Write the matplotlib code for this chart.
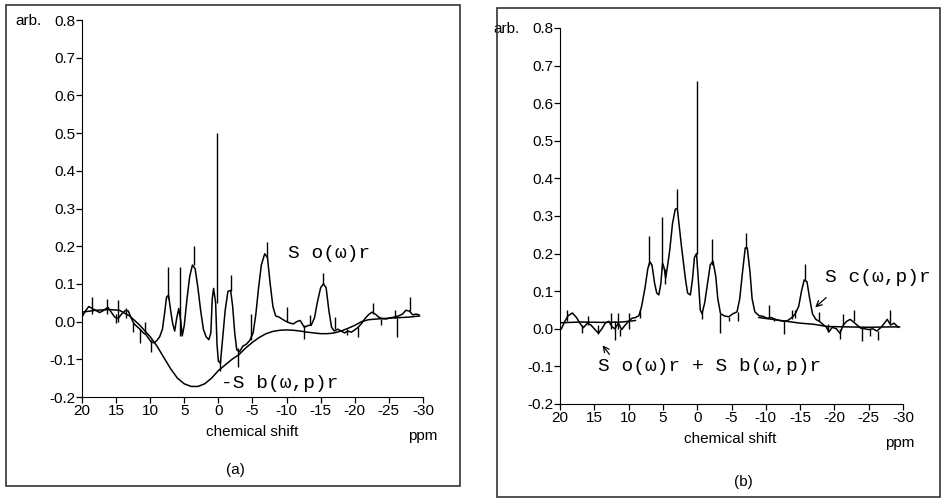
import matplotlib
matplotlib.use("Agg")
import matplotlib.pyplot as plt
from matplotlib.patches import Rectangle
import numpy as np

plt.rcParams['font.family'] = ['Liberation Sans', 'DejaVu Sans']
plt.rcParams['axes.unicode_minus'] = False

# Panel (a): measured spectrum So(w)r  (ppm, arb.)
a_ppm = [20, 19.5, 19.0, 18.5, 18.0, 17.4, 16.8, 16.2, 15.7, 15.2, 14.7, 14.2, 13.6, 13.2,
         12.8, 12.4, 12.0, 11.5, 11.0, 10.6, 10.2, 9.8, 9.4, 9.0, 8.6, 8.2, 7.9, 7.6, 7.3,
         7.0, 6.7, 6.4, 6.1, 5.8, 5.5, 5.3, 5.0, 4.6, 4.2, 3.8, 3.4, 3.0, 2.6, 2.2, 1.8,
         1.4, 1.1, 0.9, 0.7, 0.4, 0.2, 0.0, -0.3, -0.6, -1.0, -1.4, -1.8, -2.1, -2.4,
         -2.7, -3.1, -3.6, -4.1, -4.6, -5.1, -5.5, -5.9, -6.3, -6.8, -7.2, -7.6, -8.0,
         -8.4, -8.9, -9.5, -10.0, -10.5, -11.0, -11.5, -12.0, -12.6, -13.2, -13.6, -14.1,
         -14.5, -15.0, -15.4, -15.8, -16.2, -16.6, -17.0, -17.5, -18.0, -18.5, -19.0,
         -19.5, -20.0, -20.5, -21.0, -21.5, -22.0, -22.5, -23.0, -23.5, -24.0, -24.6,
         -25.2, -25.8, -26.4, -27.0, -27.5, -28.0, -28.5, -29.0, -29.4]
a_val = [0.012, 0.028, 0.04, 0.035, 0.03, 0.024, 0.03, 0.038, 0.025, 0.012, 0.008, 0.02,
         0.03, 0.028, 0.01, -0.005, -0.012, -0.02, -0.03, -0.035, -0.045, -0.055, -0.056,
         -0.05, -0.04, -0.02, 0.02, 0.065, 0.07, 0.03, -0.005, -0.025, 0.01, 0.035, 0.0,
         -0.038, -0.01, 0.06, 0.12, 0.15, 0.14, 0.09, 0.03, -0.02, -0.04, -0.048, -0.03,
         0.06, 0.088, 0.05, -0.06, -0.105, -0.11, -0.05, 0.03, 0.08, 0.083, 0.04, -0.03,
         -0.075, -0.08, -0.065, -0.06, -0.05, -0.03, 0.02, 0.09, 0.15, 0.18, 0.17, 0.1,
         0.04, 0.015, 0.012, 0.005, 0.0, -0.004, -0.006, 0.0, 0.003, -0.015, -0.01, -0.01,
         0.01, 0.05, 0.09, 0.1, 0.09, 0.03, -0.015, -0.025, -0.02, -0.025, -0.03, -0.025,
         -0.028, -0.022, -0.015, -0.005, 0.008, 0.018, 0.025, 0.02, 0.012, 0.008, 0.007,
         0.01, 0.012, 0.015, 0.02, 0.03, 0.028, 0.018, 0.02, 0.018]

# Panel (a): background -Sb(w,p)r
a_bg_ppm = [20, 18, 16, 14.5, 13, 11.5, 10, 9, 8, 7, 6, 5, 4, 3, 2, 1, 0, -1, -2, -3, -4,
            -5, -6, -7, -8, -9, -10, -11, -12, -13, -14, -15, -16, -17, -18, -19, -20,
            -21, -22, -24, -26, -28, -29.5]
a_bg_val = [0.025, 0.03, 0.032, 0.03, 0.015, -0.01, -0.04, -0.065, -0.095, -0.125, -0.15,
            -0.165, -0.172, -0.172, -0.165, -0.15, -0.13, -0.115, -0.1, -0.088, -0.07,
            -0.055, -0.042, -0.032, -0.026, -0.023, -0.022, -0.023, -0.025, -0.028, -0.03,
            -0.032, -0.032, -0.03, -0.025, -0.018, -0.01, 0.0, 0.005, 0.008, 0.01, 0.012,
            0.015]

# Panel (a): noise spikes (ppm, low, high)
a_sp_ppm = [18.6, 16.4, 15.0, 14.7, 13.5, 12.5, 11.5, 10.8, 9.9, 7.35, 5.6, 3.6, 0.2, -0.2,
            -1.8, -2.9, -4.8, -7.1, -10.0, -12.5, -13.4, -15.4, -17.1, -18.8, -20.5,
            -22.7, -23.9, -25.9, -26.2, -28.1]
a_sp_lo = [0.02, 0.02, -0.005, 0.0, 0.01, -0.027, -0.058, -0.03, -0.08, 0.06, -0.038, 0.15,
           0.05, -0.13, 0.08, -0.12, -0.05, 0.17, 0.0, -0.045, -0.01, 0.1, -0.02, -0.035,
           -0.04, 0.02, -0.01, 0.01, -0.04, 0.028]
a_sp_hi = [0.065, 0.06, 0.02, 0.057, 0.035, 0.0, -0.02, 0.0, -0.05, 0.144, 0.144, 0.2, 0.5,
           -0.1, 0.124, -0.07, 0.021, 0.21, 0.04, -0.01, 0.018, 0.13, 0.013, -0.02, -0.015,
           0.05, 0.008, 0.03, 0.01, 0.065]

# Panel (b): corrected spectrum Sc(w,p)r
b_ppm = [19.8, 19.3, 18.8, 18.2, 17.6, 17.0, 16.6, 16.0, 15.5, 15.0, 14.4, 13.9, 13.4, 12.9,
         12.4, 12.0, 11.5, 11.0, 10.5, 10.0, 9.5, 9.0, 8.5, 8.1, 7.6, 7.2, 6.9, 6.6, 6.2,
         5.9, 5.6, 5.3, 5.05, 4.8, 4.6, 4.3, 4.0, 3.6, 3.2, 2.9, 2.6, 2.3, 2.0, 1.7, 1.4,
         1.0, 0.7, 0.4, 0.1, -0.2, -0.45, -0.7, -1.1, -1.5, -1.9, -2.3, -2.7, -3.0, -3.4,
         -4.0, -4.6, -5.2, -5.8, -6.2, -6.6, -7.0, -7.3, -7.7, -8.0, -8.4, -9.0, -9.6,
         -10.2, -10.8, -11.4, -12.0, -12.6, -13.2, -13.8, -14.3, -14.8, -15.2, -15.6,
         -16.0, -16.4, -16.8, -17.3, -17.8, -18.3, -18.8, -19.2, -19.7, -20.3, -20.8,
         -21.3, -21.8, -22.3, -22.8, -23.3, -23.8, -24.4, -25.0, -25.6, -26.2, -26.8,
         -27.3, -27.7, -28.2, -28.7, -29.3]
b_val = [0.0, 0.02, 0.035, 0.042, 0.03, 0.012, 0.003, 0.015, 0.01, 0.0, -0.012, 0.0, 0.015,
         0.02, 0.005, 0.0, 0.015, -0.002, 0.01, 0.02, 0.028, 0.03, 0.035, 0.06, 0.11, 0.16,
         0.178, 0.17, 0.12, 0.095, 0.09, 0.12, 0.175, 0.16, 0.135, 0.17, 0.21, 0.28, 0.318,
         0.32, 0.27, 0.22, 0.175, 0.13, 0.095, 0.09, 0.13, 0.19, 0.2, 0.12, 0.05, 0.04,
         0.07, 0.12, 0.17, 0.18, 0.14, 0.08, 0.04, 0.034, 0.032, 0.04, 0.045, 0.08, 0.15,
         0.215, 0.215, 0.15, 0.08, 0.045, 0.035, 0.033, 0.028, 0.03, 0.025, 0.022, 0.02,
         0.022, 0.03, 0.04, 0.06, 0.1, 0.13, 0.125, 0.08, 0.04, 0.025, 0.02, 0.012, 0.005,
         -0.008, 0.004, 0.0, -0.012, 0.01, 0.02, 0.025, 0.018, 0.01, 0.002, 0.0, -0.002,
         0.0, -0.006, 0.004, 0.015, 0.025, 0.01, 0.015, 0.004]

# Panel (b): So(w)r + Sb(w,p)r baseline (gap under the peaks)
b_bg_ppm = [20, 17, 14, 11, 9, 8.5, -8.5, -9, -11, -13, -15, -17, -19, -22, -25, -28, -29.5]
b_bg_val = [0.016, 0.018, 0.017, 0.018, 0.022, np.nan, np.nan, 0.03, 0.025, 0.02, 0.015,
            0.012, 0.006, 0.005, 0.004, 0.005, 0.005]

b_sp_ppm = [19.0, 16.8, 15.9, 14.4, 12.5, 12.0, 11.5, 11.25, 10.0, 8.3, 7.0, 5.1, 4.7, 3.0,
            0.05, -0.65, -2.2, -3.3, -4.7, -5.9, -7.07, -10.5, -11.2, -12.7, -13.8, -14.3,
            -15.7, -17.8, -19.1, -20.8, -21.3, -22.8, -24.0, -25.2, -26.4, -28.1]
b_sp_lo = [0.02, -0.011, 0.01, -0.015, 0.0, -0.03, 0.0, -0.02, 0.0, 0.03, 0.17, 0.16, 0.12,
           0.32, 0.2, 0.025, 0.17, -0.01, 0.02, 0.02, 0.215, 0.03, 0.02, -0.015, 0.025, 0.03,
           0.13, 0.02, -0.008, -0.028, 0.01, 0.02, -0.033, -0.02, -0.03, 0.015]
b_sp_hi = [0.051, 0.01, 0.034, 0.01, 0.043, 0.02, 0.043, 0.0, 0.043, 0.051, 0.247, 0.297,
           0.16, 0.373, 0.66, 0.05, 0.238, 0.04, 0.032, 0.045, 0.256, 0.063, 0.03, 0.02,
           0.051, 0.051, 0.171, 0.045, 0.012, 0.0, 0.04, 0.051, 0.002, 0.0, -0.006, 0.051]

x_ticks = [20, 15, 10, 5, 0, -5, -10, -15, -20, -25, -30]
y_ticks = [-0.2, -0.1, 0.0, 0.1, 0.2, 0.3, 0.4, 0.5, 0.6, 0.7, 0.8]

fig = plt.figure(figsize=(9.42, 4.99), dpi=100)

# outer frames around each panel
fig.add_artist(Rectangle((6/942, 1-486/499), 454/942, 481/499, transform=fig.transFigure,
                         fill=False, lw=1.2, ec='#333333'))
fig.add_artist(Rectangle((497/942, 1-497/499), 443/942, 489/499, transform=fig.transFigure,
                         fill=False, lw=1.2, ec='#333333'))

ax1 = fig.add_axes([0.087, 0.2044, 0.362, 0.7555])
ax2 = fig.add_axes([0.5945, 0.1904, 0.3641, 0.7535])

mono = 'Liberation Mono'


def style(ax):
    ax.set_xlim(20, -30)
    ax.set_ylim(-0.2, 0.8)
    ax.spines['top'].set_visible(False)
    ax.spines['right'].set_visible(False)
    ax.set_xticks(x_ticks)
    ax.set_xticklabels([str(t) for t in x_ticks])
    ax.set_yticks(y_ticks)
    ax.set_yticklabels(['%.1f' % t for t in y_ticks])
    ax.tick_params(direction='out', length=4, width=0.9, labelsize=11, pad=1)
    ax.text(-0.118, 0.997, 'arb.', transform=ax.transAxes, ha='right', va='center', fontsize=11)


style(ax1)
ax1.plot(a_ppm, a_val, color='black', lw=1.1)
ax1.plot(a_bg_ppm, a_bg_val, color='black', lw=1.1)
ax1.vlines(a_sp_ppm, a_sp_lo, a_sp_hi, color='black', lw=1.0)
ax1.text(-10.2, 0.18, 'S o(ω)r', fontsize=14, family=mono, va='center')
ax1.text(-0.4, -0.163, '-S b(ω,p)r', fontsize=14, family=mono, va='center')
ax1.text(0.5, -0.093, 'chemical shift', transform=ax1.transAxes, ha='center', va='center', fontsize=11)
ax1.text(1.0, -0.103, 'ppm', transform=ax1.transAxes, ha='center', va='center', fontsize=11)
ax1.text(0.449, -0.194, '(a)', transform=ax1.transAxes, ha='center', va='center', fontsize=11)

style(ax2)
ax2.plot(b_ppm, b_val, color='black', lw=1.1)
ax2.plot(b_bg_ppm, b_bg_val, color='black', lw=1.1)
ax2.vlines(b_sp_ppm, b_sp_lo, b_sp_hi, color='black', lw=1.0)
ax2.text(-18.6, 0.137, 'S c(ω,p)r', fontsize=14, family=mono, va='center')
ax2.text(14.5, -0.1, 'S o(ω)r + S b(ω,p)r', fontsize=14, family=mono, va='center')
ax2.annotate('', xy=(-17.2, 0.057), xytext=(-18.8, 0.083),
             arrowprops=dict(arrowstyle='->', lw=0.9, color='black', shrinkA=0, shrinkB=0))
ax2.annotate('', xy=(13.8, -0.044), xytext=(12.8, -0.068),
             arrowprops=dict(arrowstyle='->', lw=0.9, color='black', shrinkA=0, shrinkB=0))
ax2.text(0.496, -0.093, 'chemical shift', transform=ax2.transAxes, ha='center', va='center', fontsize=11)
ax2.text(0.99, -0.104, 'ppm', transform=ax2.transAxes, ha='center', va='center', fontsize=11)
ax2.text(0.534, -0.207, '(b)', transform=ax2.transAxes, ha='center', va='center', fontsize=11)

fig.savefig('out.png', dpi=100)
